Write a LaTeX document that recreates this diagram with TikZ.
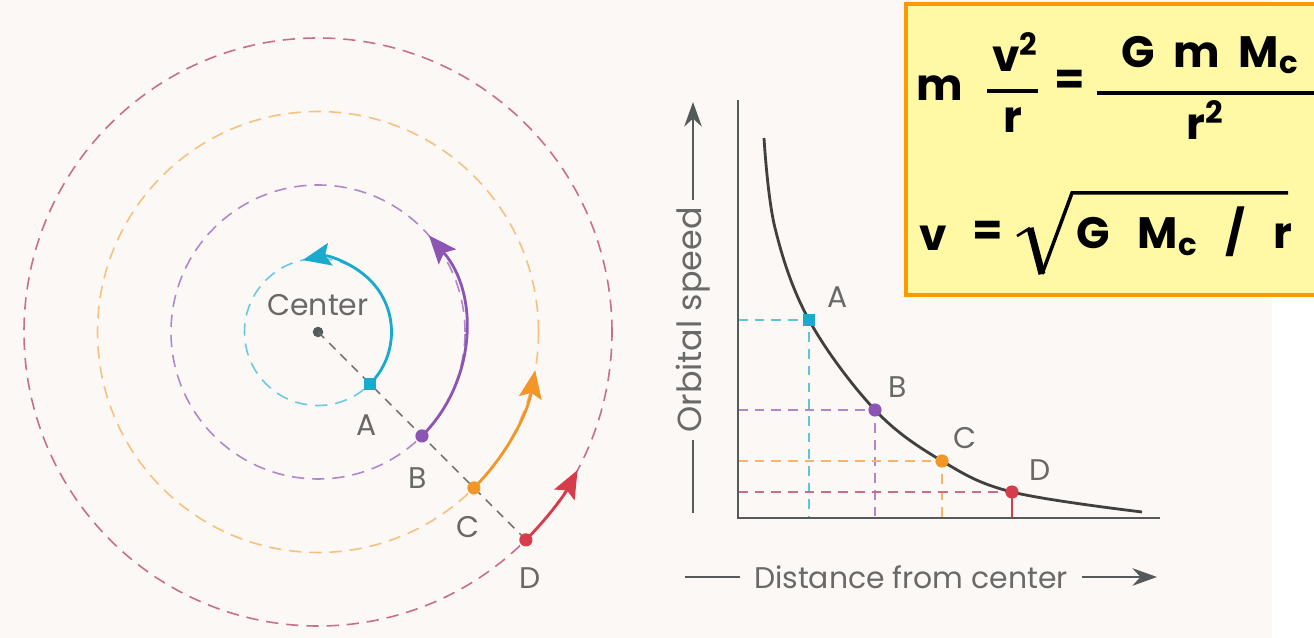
\documentclass[tikz,border=0pt]{standalone}
\usepackage{fontspec}
\setmainfont{Poppins}
\usetikzlibrary{arrows.meta, positioning, calc}
\definecolor{paper}{RGB}{251,248,245}
\definecolor{labelgray}{RGB}{105,105,105}
\definecolor{axisgray}{RGB}{85,90,90}
\definecolor{orbA}{RGB}{25,170,205}
\definecolor{orbB}{RGB}{140,85,180}
\definecolor{orbC}{RGB}{242,150,40}
\definecolor{orbD}{RGB}{215,60,75}
\definecolor{ringD}{RGB}{200,110,140}
\definecolor{boxfill}{RGB}{255,249,166}
\definecolor{boxline}{RGB}{255,153,0}

\begin{document}
\begin{tikzpicture}[x=0.02cm, y=0.02cm,
  ring/.style={dash pattern=on 7pt off 4.5pt, line width=0.9pt},
  guide/.style={dash pattern=on 5.5pt off 4pt, line width=0.8pt},
  lbl/.style={text=labelgray, font=\fontsize{17}{17}\selectfont},
  eq/.style={font=\bfseries\fontsize{25}{25}\selectfont, inner sep=0pt},
  orbarrow/.style={line width=1.6pt, -{Stealth[length=16pt,width=13pt,inset=3pt]}}]
  \useasboundingbox (0,0) rectangle (1314,638);
  \fill[paper] (0,0) rectangle (1272,638);

  % orbits round the center
  \coordinate (O) at (318,306);
  \draw[orbA!65, ring] (O) circle[radius=73.5];
  \draw[orbB!70, ring] (O) circle[radius=147];
  \draw[orbC!60, ring] (O) circle[radius=220.5];
  \draw[ringD, ring] (O) circle[radius=294];
  \coordinate (pA) at ($(O)+(-45:73.5)$);
  \coordinate (pB) at ($(O)+(-45:147)$);
  \coordinate (pC) at ($(O)+(-45:220.5)$);
  \coordinate (pD) at ($(O)+(-45:294)$);
  \node[circle, fill=axisgray, inner sep=0pt, minimum size=6pt] (ctr) at (O) {};
  \node[lbl] (ctrlbl) at (318,333) {Center};
  \draw[labelgray, dash pattern=on 5pt off 4pt, line width=0.8pt] (ctr.center) -- (pD);
  \draw[orbA, orbarrow] (pA) arc[start angle=-45, end angle=102, radius=73.5];
  \draw[orbB, orbarrow] (pB) arc[start angle=-45, end angle=41, radius=147];
  \draw[orbC, orbarrow] (pC) arc[start angle=-45, end angle=-10, radius=220.5];
  \draw[orbD, orbarrow] (pD) arc[start angle=-45, end angle=-28, radius=294];
  \node[fill=orbA, inner sep=0pt, minimum size=7pt] (A) at (pA) {};
  \node[circle, fill=orbB, inner sep=0pt, minimum size=7.5pt] (B) at (pB) {};
  \node[circle, fill=orbC, inner sep=0pt, minimum size=7.5pt] (C) at (pC) {};
  \node[circle, fill=orbD, inner sep=0pt, minimum size=7.5pt] (D) at (pD) {};
  \node[lbl] (labA) at (367,213) {A};
  \node[lbl] (labB) at (418,160) {B};
  \node[lbl] (labC) at (468,111) {C};
  \node[lbl] (labD) at (530,60) {D};

  % speed against distance
  \coordinate (orig) at (738,120);
  \coordinate (ytop) at (738,538);
  \coordinate (xend) at (1160,120);
  \coordinate (gA) at (809,318);
  \coordinate (gB) at (875,228);
  \coordinate (gC) at (942,177);
  \coordinate (gD) at (1012,146);
  \draw[orbA!70, guide] (orig |- gA) -- (gA) -- (gA |- orig);
  \draw[orbB!70, guide] (orig |- gB) -- (gB) -- (gB |- orig);
  \draw[orbC!70, guide] (orig |- gC) -- (gC) -- (gC |- orig);
  \draw[ringD, guide] (orig |- gD) -- (gD);
  \draw[orbD, line width=0.8pt] (gD) -- (gD |- orig);
  \draw[axisgray, line width=1.1pt] (ytop) -- (orig) -- (xend);
  \draw[black!75, line width=1.6pt] plot[smooth, tension=0.6] coordinates
    {(764,500) (775,410) (gA) (gB) (gC) (gD) (1142,126)};
  \node[fill=orbA, inner sep=0pt, minimum size=7pt] (mA) at (gA) {};
  \node[circle, fill=orbB, inner sep=0pt, minimum size=7.5pt] (mB) at (gB) {};
  \node[circle, fill=orbC, inner sep=0pt, minimum size=7.5pt] (mC) at (gC) {};
  \node[circle, fill=orbD, inner sep=0pt, minimum size=7.5pt] (mD) at (gD) {};
  \node[lbl] (glabA) at (838,341) {A};
  \node[lbl] (glabB) at (898,251) {B};
  \node[lbl] (glabC) at (965,200) {C};
  \node[lbl] (glabD) at (1040,168) {D};

  % axis titles
  \node[lbl, rotate=90, inner sep=4pt, font=\fontsize{19}{19}\selectfont] (ylab) at (693,318) {Orbital speed};
  \coordinate (ylo) at (693,125);
  \coordinate (yhi) at (693,536);
  \draw[axisgray, line width=1.1pt] (ylo) -- (ylab.west);
  \draw[axisgray, line width=1.1pt, -{Stealth[length=14pt,width=10pt]}] (ylab.east) -- (yhi);
  \node[lbl, inner sep=8pt] (xlab) at (911,61) {Distance from center};
  \coordinate (xlo) at (685,61);
  \coordinate (xhi) at (1157,61);
  \draw[axisgray, line width=1.1pt] (xlo) -- (xlab.west);
  \draw[axisgray, line width=1.1pt, -{Stealth[length=14pt,width=10pt]}] (xlab.east) -- (xhi);

  % formula box
  \draw[boxline, fill=boxfill, line width=2.8pt] (906,343) rectangle (1330,634);
  \node[eq] (m1) at (940,550) {m};
  \node[eq] (v2) at (1015,586) {v\textsuperscript{2}};
  \draw[line width=2.5pt] (987,547) -- (1038,547);
  \node[eq] (r1) at (1013,518) {r};
  \node[eq] (eq1) at (1070,556) {=};
  \node[eq] (num) at (1210,583) {G\ \ m\ \ M\textsubscript{c}};
  \draw[line width=2.5pt] (1097,545) -- (1320,545);
  \node[eq] (den) at (1205,518) {r\textsuperscript{2}};
  \node[eq] (v1) at (933,400) {v};
  \node[eq] (eq2) at (988,405) {=};
  \draw[line width=1.5pt] (1017,402) -- (1030,410);
  \draw[line width=4pt] (1030,410) -- (1042,364);
  \draw[line width=2pt] (1042,364) -- (1072,445) -- (1288,445);
  \node[eq, anchor=west] (rad) at (1076,406) {G\ \ \ M\textsubscript{c}\ \ \ /\ \ \ r};
\end{tikzpicture}
\end{document}
